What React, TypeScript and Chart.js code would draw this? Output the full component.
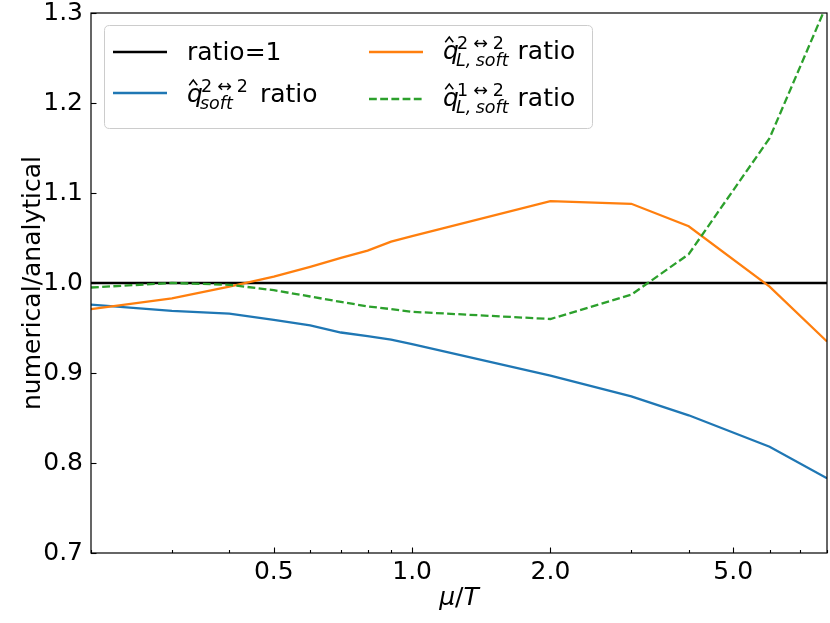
import { useEffect, useRef } from "react";
import { Chart, registerables } from "chart.js";

Chart.register(...registerables);

// ---- data ----
const muT = [0.2, 0.3, 0.4, 0.5, 0.6, 0.7, 0.8, 0.9, 1.0, 2.0, 3.0, 4.0, 6.0, 8.0];
const qSoftRatio = [0.976, 0.969, 0.966, 0.959, 0.953, 0.945, 0.941, 0.937, 0.932, 0.897, 0.874, 0.853, 0.818, 0.783];
const qLSoft22Ratio = [0.971, 0.983, 0.996, 1.007, 1.018, 1.028, 1.036, 1.046, 1.052, 1.091, 1.088, 1.063, 0.996, 0.935];
const qLSoft12Ratio = [0.995, 1.0, 0.998, 0.992, 0.985, 0.979, 0.974, 0.971, 0.968, 0.96, 0.987, 1.032, 1.161, 1.31];
const unityX = [0.2, 8.0];
const unityY = [1.0, 1.0];

const xTickValues = [0.2, 0.3, 0.4, 0.5, 0.6, 0.7, 0.8, 0.9, 1, 2, 3, 4, 5, 6, 7, 8];
const xMajorLabels = [0.5, 1, 2, 5];
const yTickValues = [0.7, 0.8, 0.9, 1.0, 1.1, 1.2, 1.3];

const xTitle = ["μ", "/", "T"];
const yTitle = "numerical/analytical";

const FONT = '"DejaVu Sans"';
const FS = 25;
const LW = 2.3;

const mk = (xs: number[], ys: number[]) => xs.map((x, i) => ({ x, y: ys[i] }));

function drawQ(
  ctx: CanvasRenderingContext2D,
  x: number,
  base: number,
  sup: string[],
  subParts: string[],
  ratioGap: number
) {
  const sfs = FS * 0.7;
  ctx.fillStyle = "#000";
  ctx.strokeStyle = "#000";
  ctx.textAlign = "left";
  ctx.textBaseline = "alphabetic";
  ctx.font = `italic ${FS}px ${FONT}`;
  ctx.fillText("q", x, base);
  // hat
  const hc = x + FS * 0.25;
  ctx.beginPath();
  ctx.moveTo(hc - FS * 0.16, base - FS * 0.67);
  ctx.lineTo(hc, base - FS * 0.88);
  ctx.lineTo(hc + FS * 0.16, base - FS * 0.67);
  ctx.lineWidth = 1.5;
  ctx.stroke();
  // superscript
  let sx = x + FS * 0.56;
  const supBase = base - 10.5;
  ctx.font = `${sfs}px ${FONT}`;
  sup.forEach((s, i) => {
    ctx.fillText(s, sx, supBase);
    sx += ctx.measureText(s).width + (i < sup.length - 1 ? 5 : 0);
  });
  // subscript
  let bx = x + FS * 0.52;
  const subBase = base + 6.5;
  ctx.font = `italic ${sfs}px ${FONT}`;
  subParts.forEach((s, i) => {
    ctx.fillText(s, bx, subBase);
    bx += ctx.measureText(s).width + (i < subParts.length - 1 ? sfs * 0.25 : 0);
  });
  ctx.font = `${FS}px ${FONT}`;
  ctx.fillText("ratio", Math.max(sx, bx) + ratioGap, base);
}

const decorPlugin = {
  id: "decor",
  afterDraw(chart: any) {
    const ctx: CanvasRenderingContext2D = chart.ctx;
    const { left, right, top, bottom } = chart.chartArea;
    const xs = chart.scales.x;
    const ys = chart.scales.y;
    ctx.save();
    // frame
    ctx.strokeStyle = "#000";
    ctx.lineWidth = 1.2;
    ctx.strokeRect(left, top, right - left, bottom - top);
    // inward ticks
    ctx.lineWidth = 1.1;
    xTickValues.forEach((v) => {
      const px = Math.round(xs.getPixelForValue(v)) + 0.5;
      const len = xMajorLabels.includes(v) ? 5.5 : 3;
      ctx.beginPath();
      ctx.moveTo(px, bottom);
      ctx.lineTo(px, bottom - len);
      ctx.stroke();
    });
    yTickValues.forEach((v) => {
      const py = Math.round(ys.getPixelForValue(v)) + 0.5;
      ctx.beginPath();
      ctx.moveTo(left, py);
      ctx.lineTo(left + 5.5, py);
      ctx.stroke();
    });
    // axis titles
    ctx.fillStyle = "#000";
    ctx.textBaseline = "middle";
    ctx.textAlign = "left";
    const fonts = [`italic ${FS}px ${FONT}`, `${FS}px ${FONT}`, `italic ${FS}px ${FONT}`];
    let tw = 0;
    xTitle.forEach((t, i) => {
      ctx.font = fonts[i];
      tw += ctx.measureText(t).width;
    });
    let tx = (left + right) / 2 - tw / 2;
    xTitle.forEach((t, i) => {
      ctx.font = fonts[i];
      ctx.fillText(t, tx, 598);
      tx += ctx.measureText(t).width;
    });
    ctx.save();
    ctx.translate(33, (top + bottom) / 2);
    ctx.rotate(-Math.PI / 2);
    ctx.textAlign = "center";
    ctx.font = `${FS}px ${FONT}`;
    ctx.fillText(yTitle, 0, 0);
    ctx.restore();

    // legend
    const bx = 104.5, by = 25.5, bw = 488, bh = 103, r = 5;
    ctx.beginPath();
    ctx.moveTo(bx + r, by);
    ctx.lineTo(bx + bw - r, by);
    ctx.quadraticCurveTo(bx + bw, by, bx + bw, by + r);
    ctx.lineTo(bx + bw, by + bh - r);
    ctx.quadraticCurveTo(bx + bw, by + bh, bx + bw - r, by + bh);
    ctx.lineTo(bx + r, by + bh);
    ctx.quadraticCurveTo(bx, by + bh, bx, by + bh - r);
    ctx.lineTo(bx, by + r);
    ctx.quadraticCurveTo(bx, by, bx + r, by);
    ctx.closePath();
    ctx.fillStyle = "rgba(255,255,255,0.8)";
    ctx.fill();
    ctx.strokeStyle = "#cccccc";
    ctx.lineWidth = 1;
    ctx.stroke();

    const ds = chart.data.datasets;
    const handle = (x0: number, y: number, i: number) => {
      ctx.beginPath();
      ctx.strokeStyle = ds[i].borderColor;
      ctx.lineWidth = LW;
      ctx.setLineDash(ds[i].borderDash || []);
      ctx.moveTo(x0, y);
      ctx.lineTo(x0 + 54, y);
      ctx.stroke();
      ctx.setLineDash([]);
    };
    handle(113, 52, 0);
    handle(113, 93, 1);
    handle(369, 52, 2);
    handle(369, 99, 3);

    ctx.fillStyle = "#000";
    ctx.textBaseline = "alphabetic";
    ctx.textAlign = "left";
    ctx.font = `${FS}px ${FONT}`;
    ctx.fillText("ratio=1", 187, 60);
    drawQ(ctx, 187, 102, ["2", "↔", "2"], ["soft"], 12);
    drawQ(ctx, 443, 59, ["2", "↔", "2"], ["L,", "soft"], 9);
    drawQ(ctx, 443, 106, ["1", "↔", "2"], ["L,", "soft"], 9);
    ctx.restore();
  },
};

export default function App() {
  const ref = useRef<HTMLCanvasElement | null>(null);
  useEffect(() => {
    document.body.style.margin = "0";
    document.body.style.overflow = "hidden";
    if (!ref.current) return;
    Chart.defaults.font.family = FONT;
    const chart = new Chart(ref.current, {
      type: "line",
      data: {
        datasets: [
          { label: "ratio=1", data: mk(unityX, unityY), borderColor: "#000000", borderWidth: LW, pointRadius: 0, order: 4 },
          { label: "q_soft 2<->2 ratio", data: mk(muT, qSoftRatio), borderColor: "#1f77b4", borderWidth: LW, pointRadius: 0, order: 3 },
          { label: "q_L,soft 2<->2 ratio", data: mk(muT, qLSoft22Ratio), borderColor: "#ff7f0e", borderWidth: LW, pointRadius: 0, order: 2 },
          { label: "q_L,soft 1<->2 ratio", data: mk(muT, qLSoft12Ratio), borderColor: "#2ca02c", borderWidth: LW, borderDash: [7.8, 3.4], pointRadius: 0, order: 1 },
        ] as any,
      },
      options: {
        animation: false,
        responsive: false,
        devicePixelRatio: 1,
        layout: { padding: { top: 13, right: 3, left: 0, bottom: 0 } },
        elements: { line: { tension: 0 } },
        plugins: { legend: { display: false }, tooltip: { enabled: false } },
        scales: {
          x: {
            type: "logarithmic",
            min: 0.2,
            max: 8,
            position: "bottom",
            afterBuildTicks: (s: any) => {
              s.ticks = xTickValues.map((v) => ({ value: v }));
            },
            afterFit: (s: any) => {
              s.height = 70;
              s.paddingLeft = 0;
              s.paddingRight = 0;
            },
            grid: { display: false, drawTicks: false },
            border: { display: false },
            ticks: {
              autoSkip: false,
              maxRotation: 0,
              minRotation: 0,
              padding: 4,
              color: "#000",
              font: { family: FONT, size: FS },
              callback: (v: any) => (xMajorLabels.includes(Number(v)) ? Number(v).toFixed(1) : ""),
            },
          },
          y: {
            type: "linear",
            min: 0.7,
            max: 1.3,
            afterBuildTicks: (s: any) => {
              s.ticks = yTickValues.map((v) => ({ value: v }));
            },
            afterFit: (s: any) => {
              s.width = 91;
              s.paddingTop = 0;
              s.paddingBottom = 0;
            },
            grid: { display: false, drawTicks: false },
            border: { display: false },
            ticks: {
              padding: 8,
              color: "#000",
              font: { family: FONT, size: FS },
              callback: (v: any) => Number(v).toFixed(1),
            },
          },
        },
      } as any,
      plugins: [decorPlugin],
    });
    return () => chart.destroy();
  }, []);
  return (
    <div style={{ width: 830, height: 623 }}>
      <canvas ref={ref} width={830} height={623} style={{ display: "block" }} />
    </div>
  );
}
